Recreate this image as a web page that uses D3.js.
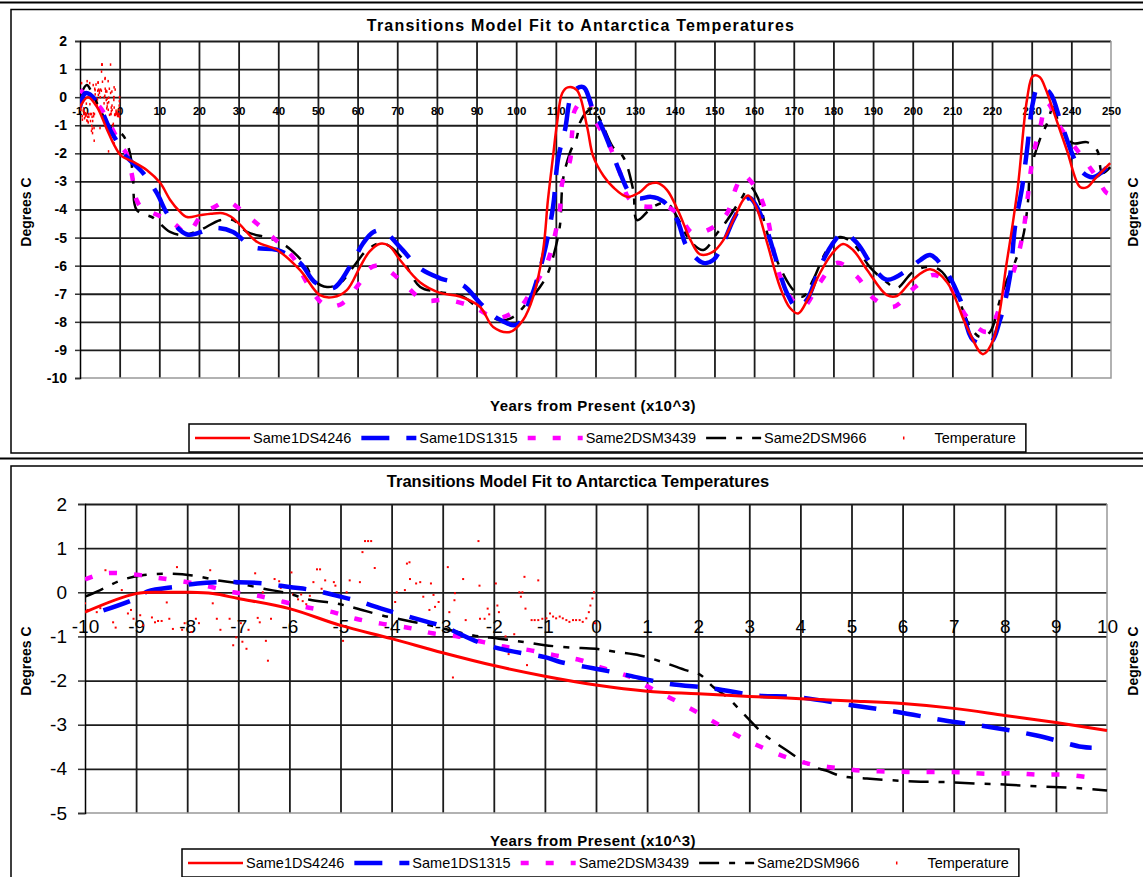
<!DOCTYPE html>
<html>
<head>
<meta charset="utf-8">
<title>Transitions Model Fit to Antarctica Temperatures</title>
<style>
  body { margin: 0; background: #fff; }
  svg { display: block; font-family: Arial, "Liberation Sans", sans-serif; }
  .grid line { stroke: #1c1c1c; stroke-width: 1.8px; }
  .grid path { display: none; }
</style>
<script src="https://cdn.jsdelivr.net/npm/d3@7/dist/d3.min.js"></script>
</head>
<body>
<script>
// ---------- data (x = thousands of years from present, y = degrees C) ----------
var seriesNames = ["Same1DS4246", "Same1DS1315", "Same2DSM3439", "Same2DSM966", "Temperature"];

// upper chart, -10 .. 250 kyr
var longRed = [[-10,-0.35],[-8,0.0],[-5.7,-0.35],[-3.2,-1.15],[-1.2,-1.75],[0.5,-2.1],[3.4,-2.3],[6.9,-2.6],[10.2,-3.05],[12.7,-3.65],[15,-4.05],[17,-4.27],[20.3,-4.2],[23,-4.15],[26,-4.13],[28,-4.25],[30.4,-4.55],[34.6,-5.15],[39.7,-5.44],[45.5,-6.16],[50.5,-7.05],[53.8,-7.12],[57.3,-6.87],[60.6,-6.05],[63,-5.5],[65.7,-5.22],[68,-5.3],[70.7,-5.8],[75.8,-6.6],[80.8,-6.97],[85.8,-7.1],[90.9,-7.47],[94.2,-8.18],[98.4,-8.36],[101.7,-7.94],[104.3,-7.1],[106.8,-5.44],[108,-3.67],[109.3,-2.1],[110.3,-0.93],[111.6,0.14],[113,0.35],[115.3,0.25],[117.9,-1.07],[119.4,-2.1],[122,-2.8],[124.4,-3.2],[128,-3.55],[131,-3.4],[133.5,-3.1],[135.5,-3.05],[138,-3.3],[141,-4.1],[144,-5.1],[146.4,-5.6],[149.7,-5.5],[152.2,-5.1],[155,-4.3],[157.2,-3.67],[158.5,-3.5],[160.5,-3.9],[163.3,-5.2],[166.5,-6.75],[169,-7.5],[171.1,-7.7],[173.5,-7.2],[176.6,-6.27],[179.5,-5.6],[182.4,-5.23],[185,-5.45],[188.5,-6.15],[193.5,-7.05],[196,-7.08],[200,-6.5],[204.4,-6.13],[208.7,-6.6],[213.7,-8.2],[217.7,-9.15],[220.3,-8.65],[223.8,-5.8],[226.5,-3.2],[228.8,-0.1],[230.3,0.75],[232,0.72],[233.5,0.3],[235.4,-0.46],[238.9,-1.9],[242.2,-3.2],[244,-3.2],[246,-2.9],[249.8,-2.35]];
var longBlue = [[-10,-0.35],[-8.7,0.14],[-7.5,0.1],[-5,-0.35],[-2.4,-1.17],[-0.4,-1.64],[1.35,-2.06],[5.9,-2.7],[9.4,-3.42],[11.9,-4.13],[15.2,-4.73],[17.3,-4.9],[19.5,-4.85],[22,-4.73],[24.5,-4.66],[28.6,-4.8],[33.6,-5.34],[39.7,-5.44],[45.5,-5.9],[49.3,-6.6],[53.8,-6.8],[58,-6.05],[61.4,-5.2],[64,-4.8],[66.4,-4.75],[70.7,-5.34],[75.8,-6.1],[80.8,-6.45],[86.6,-6.7],[90.9,-7.33],[95.2,-7.87],[100.2,-8.1],[103.5,-7.22],[106.8,-5.7],[109.3,-3.9],[110.5,-2.24],[112.3,-1.17],[114.3,0.18],[116.9,0.36],[119.4,-0.46],[121.2,-0.93],[123.7,-1.78],[126.2,-2.7],[128.7,-3.42],[131,-3.6],[134,-3.55],[137,-3.7],[140.6,-4.38],[143.1,-5.34],[147.2,-5.9],[149.7,-5.8],[152.2,-5.2],[154.7,-4.38],[157.5,-3.7],[159,-3.6],[162.3,-4.38],[164.8,-5.44],[168.3,-6.98],[170.8,-7.5],[173.3,-7.22],[176.6,-6.05],[179.9,-5.2],[182.4,-4.84],[186,-5.2],[190,-6.05],[193.5,-6.5],[198.6,-6.16],[201.9,-5.8],[204.4,-5.62],[208.7,-6.27],[212,-7.22],[215.2,-8.65],[219.5,-8.75],[222,-7.94],[224.5,-6.4],[225.8,-4.6],[227.6,-3.2],[228.8,-1.9],[230.3,-0.2],[231.6,0.36],[233.5,0.3],[235,0.07],[237.2,-0.82],[240.9,-2.24],[243,-2.7],[245.5,-2.85],[249,-2.5]];
var longMagenta = [[-10,0.25],[-7.8,0.0],[-5,-0.35],[-1.7,-1.17],[0.5,-1.78],[1.7,-2.0],[3.0,-2.7],[4.3,-3.67],[6,-4.0],[8.5,-4.13],[13.5,-4.48],[17,-4.84],[21,-4.13],[24,-3.9],[27,-3.7],[30,-3.95],[33.6,-4.38],[38.7,-5.0],[43.7,-5.7],[47.2,-6.6],[51,-7.33],[53.5,-7.45],[56.3,-7.33],[60.6,-6.6],[63,-6.1],[65.7,-6.0],[70.7,-6.5],[76.6,-7.22],[82.6,-7.22],[89.2,-7.47],[95.2,-7.87],[101,-7.47],[104.3,-6.76],[107.8,-5.9],[111,-4.0],[111.6,-3.06],[113.6,-2.24],[114.1,-1.28],[114.8,-0.46],[117.9,0.0],[119.9,-0.82],[122.9,-1.53],[126.2,-2.7],[128.2,-3.56],[131,-3.85],[134,-3.9],[137,-3.85],[140.6,-4.13],[144.6,-4.84],[149.7,-4.63],[153.2,-4.13],[155.5,-3.2],[157.2,-2.78],[160.7,-3.3],[163.3,-4.27],[165.8,-6.05],[169,-7.1],[172.3,-7.47],[176.6,-6.6],[180.9,-5.9],[186,-6.4],[190,-7.15],[195,-7.47],[200.6,-6.76],[205.1,-6.33],[208.7,-6.6],[213.7,-7.83],[218.8,-8.36],[222,-7.47],[225.3,-6.27],[227.8,-4.84],[230.3,-2.13],[232,-1.17],[233.9,-0.21],[237.2,-1.07],[241.5,-1.89],[245.5,-2.67],[249,-3.42],[250,-3.45]];
var longBlack = [[-10,0.0],[-8.3,0.43],[-6.8,0.1],[-4,-0.7],[-1.7,-1.17],[0.8,-1.35],[2.6,-2.0],[3.4,-2.95],[4.3,-4.02],[8.5,-4.3],[12.7,-4.8],[16,-4.91],[20.3,-4.73],[25.3,-4.38],[28.6,-4.38],[32.1,-4.8],[37.2,-5.0],[40.4,-5.16],[43.7,-5.5],[47.2,-6.05],[48.8,-6.5],[52.3,-6.76],[55.6,-6.62],[58.9,-6.05],[62.4,-5.44],[65.7,-5.2],[68,-5.3],[71,-5.7],[75.8,-6.76],[80.8,-6.94],[86.6,-7.1],[90.9,-7.58],[95.9,-7.94],[99.2,-7.83],[102.7,-7.33],[106,-6.76],[107.8,-6.33],[109.3,-5.7],[111,-4.6],[111.8,-2.95],[113.5,-2.0],[115.3,-1.42],[116.1,-0.9],[118,-0.5],[119.4,-0.4],[121.5,-0.9],[124.4,-1.78],[127,-2.13],[129.5,-3.3],[130.5,-4.38],[134.5,-3.9],[138,-3.77],[140.6,-4.27],[143.8,-5.1],[147.2,-5.44],[150.7,-4.84],[153.2,-4.38],[156.5,-3.67],[159,-3.2],[161,-3.6],[163.3,-4.84],[166.5,-6.05],[169.9,-6.87],[172.3,-7.1],[174.9,-6.5],[178.4,-5.44],[181.6,-4.98],[184.9,-5.2],[189.2,-6.05],[193.5,-6.6],[196,-6.8],[200,-6.23],[203.6,-6.05],[206.9,-6.16],[211.2,-7.1],[214.5,-8.18],[217,-8.54],[219.5,-8.36],[222,-7.22],[223.8,-6.5],[225.3,-6.05],[227.8,-4.98],[229.1,-3.67],[229.6,-2.7],[232,-1.53],[233.9,-0.93],[235.4,-0.36],[237.2,-1.07],[240.4,-1.64],[243.9,-1.6],[246.5,-1.89],[247.8,-2.7],[249.8,-2.49]];

// lower chart, -10 .. 10 kyr
var shortRed = [[-10,-0.45],[-9,-0.03],[-8.4,0.0],[-8,0.0],[-7.5,-0.03],[-7,-0.14],[-6,-0.37],[-5,-0.75],[-4,-1.05],[-3,-1.37],[-2,-1.66],[-1,-1.9],[0,-2.1],[1,-2.24],[2,-2.3],[3,-2.36],[4,-2.41],[5,-2.46],[6,-2.52],[7,-2.63],[8,-2.79],[9,-2.95],[10,-3.13]];
var shortBlue = [[-9.64,-0.41],[-9,-0.14],[-8.77,0.02],[-8.2,0.13],[-7.8,0.2],[-7.4,0.23],[-7,0.23],[-6.5,0.2],[-6,0.12],[-5.5,0.04],[-5.1,-0.07],[-4.6,-0.22],[-4.2,-0.37],[-3.3,-0.67],[-3,-0.77],[-2.3,-1.13],[-1.8,-1.3],[-1,-1.47],[-0.7,-1.58],[-0.2,-1.69],[0.3,-1.8],[0.7,-1.9],[1.4,-2.07],[2.3,-2.18],[3.15,-2.34],[3.9,-2.37],[5,-2.56],[5.9,-2.71],[6.8,-2.9],[7.7,-3.05],[8.6,-3.24],[9.5,-3.5],[9.7,-3.52]];
var shortMagenta = [[-10,0.29],[-9.6,0.43],[-9,0.4],[-8.6,0.33],[-8.1,0.25],[-7.6,0.14],[-7.1,0.0],[-6.65,-0.07],[-6.1,-0.22],[-5.7,-0.33],[-5.15,-0.45],[-4.7,-0.6],[-4.2,-0.71],[-3.6,-0.82],[-3.2,-0.93],[-2.7,-1.0],[-2.2,-1.13],[-1.8,-1.23],[-1.3,-1.31],[-0.8,-1.43],[-0.3,-1.54],[0.14,-1.72],[0.67,-1.92],[1.1,-2.19],[1.55,-2.45],[1.97,-2.71],[2.43,-3.02],[2.82,-3.28],[3.3,-3.54],[3.76,-3.75],[4.22,-3.9],[4.71,-3.98],[5.2,-4.04],[5.7,-4.06],[6.2,-4.07],[6.7,-4.07],[7.2,-4.08],[7.65,-4.11],[8.2,-4.1],[8.65,-4.13],[9.13,-4.13],[9.63,-4.19]];
var shortBlack = [[-10,-0.1],[-9.7,0.05],[-9.3,0.27],[-8.9,0.38],[-8.4,0.42],[-7.9,0.38],[-7.4,0.27],[-7,0.2],[-6.5,0.08],[-6.05,-0.02],[-5.6,-0.17],[-5.1,-0.25],[-4.7,-0.36],[-4.2,-0.52],[-3.25,-0.75],[-2.4,-0.98],[-1.9,-1.05],[-1.4,-1.13],[-1,-1.2],[-0.5,-1.25],[0,-1.28],[0.4,-1.35],[0.86,-1.43],[1.3,-1.58],[1.77,-1.77],[2.04,-1.87],[2.3,-2.15],[2.56,-2.37],[2.95,-2.83],[3.27,-3.2],[3.5,-3.4],[3.73,-3.58],[4,-3.79],[4.25,-3.95],[4.5,-4.04],[4.83,-4.17],[5.3,-4.22],[5.8,-4.26],[6.35,-4.29],[6.86,-4.3],[7.4,-4.33],[7.9,-4.35],[8.4,-4.38],[8.94,-4.41],[9.47,-4.44],[10,-4.49]];

// measured temperatures (shown in both charts)
var temperature = [[-10,-0.25],[-9.95,-0.4],[-9.77,-0.45],[-9.7,-0.36],[-9.6,0.5],[-9.45,-0.68],[-9.4,-0.8],[-9.28,0.05],[-9.16,-0.48],[-9.1,-0.4],[-9.05,-0.6],[-8.92,-0.52],[-8.86,-0.75],[-8.69,-0.57],[-8.63,-0.68],[-8.57,-0.65],[-8.5,-0.65],[-8.4,-0.23],[-8.35,-0.6],[-8.28,-0.83],[-8.2,0.57],[-8.1,-0.85],[-8.05,-0.7],[-7.92,-0.9],[-7.83,-0.6],[-7.77,-0.7],[-7.55,0.5],[-7.5,-0.25],[-7.42,-0.6],[-7.35,-0.85],[-7.17,-0.6],[-7.1,-1.2],[-7.04,-1.02],[-6.95,-0.7],[-6.92,-1.12],[-6.84,-1.28],[-6.8,-0.85],[-6.67,0.43],[-6.62,-0.58],[-6.58,-0.68],[-6.52,0.0],[-6.46,-1.1],[-6.42,-1.55],[-6.36,-0.6],[-6.29,0.3],[-6.2,0.25],[-6.17,0.1],[-6.13,-0.2],[-5.96,0.45],[-5.93,-0.05],[-5.83,-0.16],[-5.77,-0.05],[-5.74,-0.2],[-5.67,-0.27],[-5.6,-0.08],[-5.53,0.23],[-5.46,0.52],[-5.4,0.52],[-5.37,0.08],[-5.3,0.27],[-5.13,0.23],[-5.1,0.15],[-4.95,-1.1],[-4.88,0.0],[-4.82,0.27],[-4.62,0.23],[-4.57,0.91],[-4.52,1.16],[-4.46,1.16],[-4.4,1.16],[-4.33,0.55],[-3.93,-0.22],[-3.9,0.0],[-3.74,0.05],[-3.7,0.65],[-3.65,0.68],[-3.64,0.3],[-3.52,0.2],[-3.44,0.23],[-3.38,-0.1],[-3.26,-0.4],[-3.23,0.2],[-3.18,-0.06],[-3.15,-0.33],[-3.08,-0.22],[-2.9,0.57],[-2.87,-0.45],[-2.8,-1.93],[-2.77,-0.18],[-2.76,-0.02],[-2.6,0.3],[-2.55,-0.63],[-2.3,1.16],[-2.28,0.15],[-2.27,-0.6],[-2.18,-0.6],[-2.12,-0.37],[-2.09,-0.5],[-1.96,0.2],[-1.93,-0.3],[-1.9,-0.45],[-1.77,-1.0],[-1.71,-1.4],[-1.6,-0.95],[-1.5,0.0],[-1.47,-0.1],[-1.44,0.0],[-1.4,0.35],[-1.38,-0.37],[-1.35,-1.65],[-1.26,-0.63],[-1.2,-0.63],[-1.13,0.27],[-1.13,-0.63],[-1.05,-0.6],[-0.97,-0.59],[-0.9,-0.48],[-0.84,-0.55],[-0.78,-0.59],[-0.71,-0.55],[-0.65,-0.59],[-0.58,-0.63],[-0.52,-0.67],[-0.45,-0.63],[-0.39,-0.63],[-0.32,-0.63],[-0.26,-0.67],[-0.19,-0.59],[-0.14,-0.45],[-0.11,-0.3],[-0.07,-0.14],[-0.04,0.0],[-0.02,-0.7]];

var topXTicks = d3.range(-10, 251, 10);
var topYTicks = d3.range(-10, 3, 1);
var botXTicks = d3.range(-10, 11, 1);
var botYTicks = d3.range(-5, 3, 1);

// ---------- styles ----------
var lineStyles = [
  {color: "#ff0000", width: 2.5, dash: null},
  {color: "#0000ff", width: 4.5, dash: "28,17"},
  {color: "#ff00ff", width: 4.5, dash: "8,17"},
  {color: "#000000", width: 2.5, dash: "20,10,6,10"}
];

var W = 1143, H = 877;
var svg = d3.select("body").append("svg").attr("width", W).attr("height", H);

// page rules between the two pasted charts
svg.append("line").attr("x1", 0).attr("x2", W).attr("y1", 2.5).attr("y2", 2.5)
  .attr("stroke", "#000").attr("stroke-width", 2);
svg.append("line").attr("x1", 0).attr("x2", W).attr("y1", 458.5).attr("y2", 458.5)
  .attr("stroke", "#000").attr("stroke-width", 2);

var panels = [
  {id: "top", frameY: 9.5, frameH: 443.5, titleX: 581, titleY: 31, titleSize: 16, titleSpacing: 1.2,
   left: 80, right: 1111, top: 41, bottom: 378, xDom: [-10, 250], yDom: [-10, 2],
   xTicks: topXTicks, yTicks: topYTicks,
   xLabelSize: 11.5, xLabelWeight: "bold", xLabelY: 18,
   yLabelSize: 14, yLabelWeight: "bold", yTickSize: 5, yTickPad: 8,
   xTitleY: 411, degY: 212, legendY: 438, legendX: 195,
   series: [longRed, longBlue, longMagenta, longBlack], redWidth: 2.5, dotW: 1.5, dotH: 2.5},
  {id: "bot", frameY: 466, frameH: 430, titleX: 578, titleY: 487, titleSize: 16.5, titleSpacing: 0,
   left: 85, right: 1107, top: 504, bottom: 813, xDom: [-10, 10], yDom: [-5, 2],
   xTicks: botXTicks, yTicks: botYTicks,
   xLabelSize: 19, xLabelWeight: "normal", xLabelY: 41,
   yLabelSize: 19, yLabelWeight: "normal", yTickSize: 7, yTickPad: 11,
   xTitleY: 846, degY: 661, legendY: 863, legendX: 188,
   series: [shortRed, shortBlue, shortMagenta, shortBlack], redWidth: 3, dotW: 2, dotH: 2}
];

panels.forEach(function(p) {
  var g = svg.append("g");

  g.append("rect").attr("x", 11).attr("y", p.frameY).attr("width", W + 20).attr("height", p.frameH)
    .attr("fill", "#fff").attr("stroke", "#000").attr("stroke-width", 1.5);

  g.append("text").attr("x", p.titleX).attr("y", p.titleY).attr("text-anchor", "middle")
    .style("font-size", p.titleSize + "px").style("font-weight", "bold")
    .style("letter-spacing", p.titleSpacing + "px").text("Transitions Model Fit to Antarctica Temperatures");

  var x = d3.scaleLinear().domain(p.xDom).range([p.left, p.right]);
  var y = d3.scaleLinear().domain(p.yDom).range([p.bottom, p.top]);
  var fmt = function(d) { return String(d); };

  // gridlines
  g.append("g").attr("class", "grid").attr("transform", "translate(0," + p.bottom + ")")
    .call(d3.axisBottom(x).tickValues(p.xTicks.filter(function(d) { return d > p.xDom[0] && d < p.xDom[1]; }))
      .tickSize(-(p.bottom - p.top)).tickFormat(""));
  g.append("g").attr("class", "grid").attr("transform", "translate(" + p.left + ",0)")
    .call(d3.axisLeft(y).tickValues(p.yTicks.filter(function(d) { return d > p.yDom[0]; }))
      .tickSize(-(p.right - p.left)).tickFormat(""));

  // plot border on right / bottom
  g.append("path").attr("d", "M" + p.right + "," + p.top + "V" + p.bottom + "H" + p.left)
    .attr("fill", "none").attr("stroke", "#999").attr("stroke-width", 1.5);

  // y axis
  var ya = g.append("g").attr("transform", "translate(" + p.left + ",0)")
    .call(d3.axisLeft(y).tickValues(p.yTicks).tickSize(p.yTickSize).tickPadding(p.yTickPad).tickFormat(fmt));
  ya.attr("font-family", null).attr("font-size", p.yLabelSize).attr("font-weight", p.yLabelWeight);
  ya.select(".domain").attr("stroke", "#000").attr("stroke-width", 1.5);
  ya.selectAll(".tick line").attr("stroke", "#333").attr("stroke-width", 1.5);
  ya.selectAll("text").attr("fill", "#000");

  // x labels sit along the zero line
  var xa = g.append("g").attr("transform", "translate(0," + y(0) + ")")
    .call(d3.axisBottom(x).tickValues(p.xTicks).tickSize(0).tickFormat(fmt));
  xa.attr("font-family", null).attr("font-size", p.xLabelSize).attr("font-weight", p.xLabelWeight);
  xa.select(".domain").remove();
  xa.selectAll("text").attr("y", p.xLabelY).attr("dy", 0).attr("fill", "#000");

  // axis titles
  g.append("text").attr("x", 593).attr("y", p.xTitleY).attr("text-anchor", "middle")
    .style("font-size", "15px").style("font-weight", "bold").style("letter-spacing", "0.5px")
    .text("Years from Present (x10^3)");
  [31, 1138].forEach(function(bx) {
    g.append("text").attr("transform", "translate(" + bx + "," + p.degY + ") rotate(-90)")
      .attr("text-anchor", "middle").style("font-size", "14px").style("font-weight", "bold")
      .text("Degrees C");
  });

  // series
  var clipId = "clip-" + p.id;
  g.append("clipPath").attr("id", clipId).append("rect")
    .attr("x", p.left).attr("y", p.top - 4).attr("width", p.right - p.left + 2).attr("height", p.bottom - p.top + 8);
  var plot = g.append("g").attr("clip-path", "url(#" + clipId + ")");
  var line = d3.line().x(function(d) { return x(d[0]); }).y(function(d) { return y(d[1]); })
    .curve(d3.curveCatmullRom.alpha(0.5));

  plot.selectAll(".tdot").data(temperature).enter().append("rect").attr("class", "tdot")
    .attr("x", function(d) { return x(d[0]) - p.dotW / 2; })
    .attr("y", function(d) { return y(d[1]) - p.dotH / 2; })
    .attr("width", p.dotW).attr("height", p.dotH).attr("fill", "#ff0000");

  // draw back to front: black, magenta, blue, red on top
  [3, 2, 1, 0].forEach(function(i) {
    var s = lineStyles[i];
    plot.append("path").datum(p.series[i]).attr("d", line)
      .attr("fill", "none").attr("stroke", s.color)
      .attr("stroke-width", i === 0 ? p.redWidth : s.width)
      .attr("stroke-dasharray", s.dash);
  });

  // legend
  var lg = g.append("g");
  var box = lg.append("rect").attr("fill", "#fff").attr("stroke", "#000").attr("stroke-width", 1.5);
  var cx = p.legendX;
  seriesNames.forEach(function(name, i) {
    var e = lg.append("g").attr("transform", "translate(" + cx + "," + p.legendY + ")");
    if (i < 4) {
      var s = lineStyles[i];
      e.append("line").attr("x1", 0).attr("x2", 55).attr("y1", 0).attr("y2", 0)
        .attr("stroke", s.color).attr("stroke-width", i === 0 ? 2.5 : s.width)
        .attr("stroke-dasharray", s.dash);
    } else {
      e.append("rect").attr("x", 26.5).attr("y", -1.5).attr("width", 1.5).attr("height", 3).attr("fill", "#ff0000");
    }
    var t = e.append("text").attr("x", 58).attr("y", 5).style("font-size", "14.5px").text(name);
    cx += 58 + t.node().getComputedTextLength() + 10;
  });
  box.attr("x", p.legendX - 6).attr("y", p.legendY - 14).attr("width", cx - p.legendX + 6).attr("height", 28);
});
</script>
</body>
</html>
